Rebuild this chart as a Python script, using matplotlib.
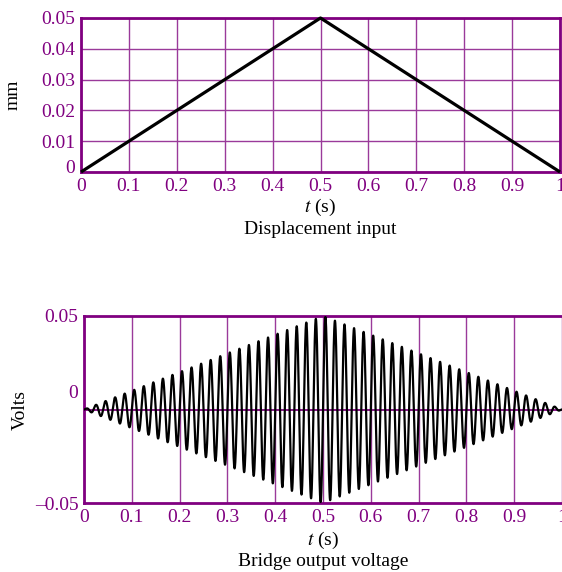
import numpy as np
import matplotlib
matplotlib.use("Agg")
import matplotlib.pyplot as plt
from matplotlib.transforms import ScaledTranslation

# displacement input (mm) - triangle
t_disp = [0.0, 0.5, 1.0]
x_disp = [0.0, 0.05, 0.0]

# bridge output: carrier at 50 Hz, 1 V per mm
carrier_hz = 50.0
volts_per_mm = 1.0

x_ticks = [0, 0.1, 0.2, 0.3, 0.4, 0.5, 0.6, 0.7, 0.8, 0.9, 1]
x_ticklabels = ["0", "0.1", "0.2", "0.3", "0.4", "0.5", "0.6", "0.7", "0.8", "0.9", "1"]
y1_ticks = [0, 0.01, 0.02, 0.03, 0.04, 0.05]
y1_ticklabels = ["0", "0.01", "0.02", "0.03", "0.04", "0.05"]
y2_ticks = [-0.05, 0, 0.05]
y2_ticklabels = ["\u20130.05", "0", "0.05"]

purple = "#800080"
grid_c = "#9a3a9a"

plt.rcParams["font.family"] = "Liberation Serif"
plt.rcParams["mathtext.fontset"] = "stix"
fs = 14

fig = plt.figure(figsize=(5.62, 5.72), dpi=100)
W, H = 562.0, 572.0

def px_axes(l, t, r, b):
    return fig.add_axes([l / W, 1 - b / H, (r - l) / W, (b - t) / H])

def style(ax):
    for s in ax.spines.values():
        s.set_color(purple)
        s.set_linewidth(2.0)
    ax.tick_params(length=0, colors=purple, labelsize=fs, pad=4)

# ---- top: displacement ----
ax1 = px_axes(81, 18, 560, 172)
ax1.plot(t_disp, x_disp, color="black", lw=2.3, solid_capstyle="butt", clip_on=False, zorder=5)
ax1.set_xlim(0, 1)
ax1.set_ylim(0, 0.05)
ax1.set_xticks(x_ticks)
ax1.set_xticklabels(x_ticklabels)
ax1.set_yticks(y1_ticks)
ax1.set_yticklabels(y1_ticklabels)
ax1.grid(True, color=grid_c, lw=1.0)
ax1.set_axisbelow(True)
style(ax1)
lab0 = ax1.get_yticklabels()[0]
lab0.set_transform(lab0.get_transform() + ScaledTranslation(0, 5 / 100, fig.dpi_scale_trans))
ax1.set_ylabel("mm", fontsize=fs)
ax1.yaxis.set_label_coords((22 - 81) / 479, 0.5)
fig.text(320 / W, 1 - 207 / H, "$t$ (s)", ha="center", va="center", fontsize=fs)
fig.text(320 / W, 1 - 230 / H, "Displacement input", ha="center", va="center", fontsize=fs)

# ---- bottom: bridge output ----
t = np.linspace(0, 1, 4001)
env = volts_per_mm * np.interp(t, t_disp, x_disp)
v = env * np.sin(2 * np.pi * carrier_hz * t)

ax2 = px_axes(84, 316, 562, 503)
ax2.plot(t, v, color="black", lw=1.6, zorder=5)
ax2.axhline(0, color=purple, lw=1.3, zorder=4)
ax2.set_xlim(0, 1)
ax2.set_ylim(-0.05, 0.05)
ax2.set_xticks(x_ticks)
ax2.set_xticklabels(x_ticklabels)
ax2.set_yticks(y2_ticks)
ax2.set_yticklabels(y2_ticklabels)
ax2.grid(True, axis="x", color=grid_c, lw=1.0)
ax2.set_axisbelow(True)
style(ax2)
ax2.spines["right"].set_visible(False)
labz = ax2.get_yticklabels()[1]
labz.set_transform(labz.get_transform() + ScaledTranslation(0, 18 / 100, fig.dpi_scale_trans))
ax2.set_ylabel("Volts", fontsize=fs)
ax2.yaxis.set_label_coords((29 - 84) / 478, 0.5)
fig.text(323 / W, 1 - 540 / H, "$t$ (s)", ha="center", va="center", fontsize=fs)
fig.text(323 / W, 1 - 562 / H, "Bridge output voltage", ha="center", va="center", fontsize=fs)

fig.savefig("out.png", dpi=100)
